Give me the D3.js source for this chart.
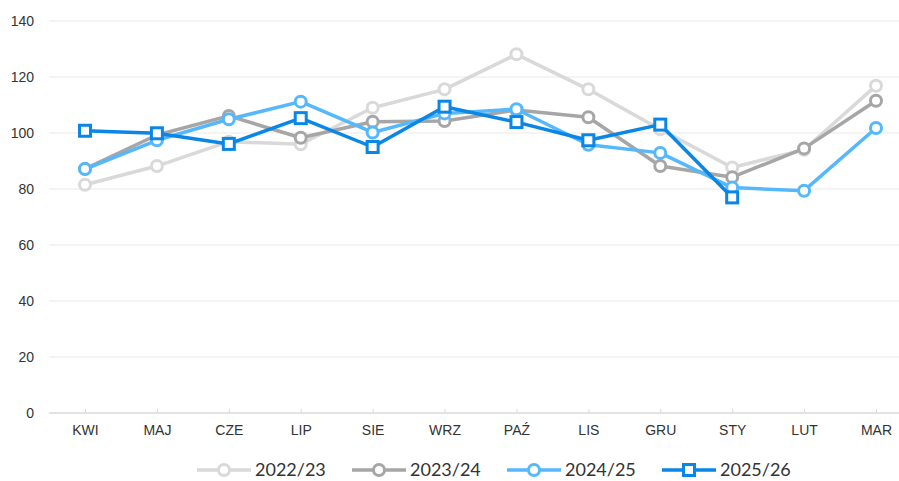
<!DOCTYPE html>
<html>
    <head>
        <meta charset="utf-8">
        <script src="https://d3js.org/d3.v7.min.js"></script>
        <style>
            body {
                margin: 0;
                background: #fff;
                font-family: Lato, 'Open Sans', sans-serif;
            }
            .tick text {
                fill: #333;
                font-size: 14px;
            }
        </style>
    </head>
    <body>
        <svg></svg>
    </body>
    <script>
        // data
        var months = ['KWI', 'MAJ', 'CZE', 'LIP', 'SIE', 'WRZ', 'PAŹ', 'LIS', 'GRU', 'STY', 'LUT', 'MAR'];
        var yTicks = [0, 20, 40, 60, 80, 100, 120, 140];

        var s2022 = [81.5, 88.2, 96.9, 96.0, 109.0, 115.6, 128.1, 115.6, 101.3, 87.7, 94.0, 116.9];
        var s2023 = [87.2, 99.3, 106.1, 98.3, 104.0, 104.3, 108.2, 105.6, 88.2, 84.2, 94.5, 111.5];
        var s2024 = [87.1, 97.4, 104.9, 111.2, 100.2, 107.0, 108.5, 95.8, 92.9, 80.5, 79.4, 101.8];
        var s2025 = [100.8, 99.9, 96.1, 105.3, 95.0, 109.4, 103.9, 97.4, 103.0, 77.0, null, null];

        var seriesNames = ['2022/23', '2023/24', '2024/25', '2025/26'];
        var seriesColors = ['#d9d9d9', '#a6a6a6', '#55b8fc', '#0a86e6'];
        var seriesShapes = ['circle', 'circle', 'circle', 'square'];
        var seriesValues = [s2022, s2023, s2024, s2025];

        // size
        var width = 899, height = 481;
        var plotLeft = 49, plotRight = 899, plotTop = 21, plotBottom = 413;

        var svg = d3.select('svg')
            .attr('width', width)
            .attr('height', height);

        var x = d3.scalePoint().domain(months).range([85, 876]);
        var y = d3.scaleLinear().domain([0, 140]).range([plotBottom, plotTop]);

        // grid
        svg.append('g')
            .selectAll('line')
            .data(yTicks.filter(function (d) { return d > 0; }))
            .enter().append('line')
                .attr('x1', plotLeft)
                .attr('x2', plotRight)
                .attr('y1', function (d) { return y(d); })
                .attr('y2', function (d) { return y(d); })
                .attr('stroke', '#f0f0f0')
                .attr('stroke-width', 1.5);

        // y axis
        var yAxis = svg.append('g')
            .attr('transform', 'translate(34,0)')
            .call(d3.axisLeft(y).tickValues(yTicks).tickSize(0).tickPadding(0));
        yAxis.select('.domain').remove();

        // x axis
        var xAxis = svg.append('g')
            .attr('transform', 'translate(0,' + plotBottom + ')')
            .call(d3.axisBottom(x).tickSize(-4).tickPadding(12).tickSizeOuter(0));
        xAxis.select('.domain')
            .attr('d', 'M' + plotLeft + ',0H' + plotRight)
            .attr('stroke', '#d9d9d9')
            .attr('stroke-width', 1.5);
        xAxis.selectAll('.tick line').attr('stroke', '#d9d9d9');

        // lines
        var line = d3.line()
            .defined(function (d) { return d != null; })
            .x(function (d, i) { return x(months[i]); })
            .y(function (d) { return y(d); });

        function drawMarker(g, shape, color, cx, cy) {
            if (shape === 'square') {
                g.append('rect')
                    .attr('x', cx - 5.5)
                    .attr('y', cy - 5.5)
                    .attr('width', 11)
                    .attr('height', 11)
                    .attr('fill', '#fff')
                    .attr('stroke', color)
                    .attr('stroke-width', 3);
            } else {
                g.append('circle')
                    .attr('cx', cx)
                    .attr('cy', cy)
                    .attr('r', 5.5)
                    .attr('fill', '#fff')
                    .attr('stroke', color)
                    .attr('stroke-width', 3);
            }
        }

        seriesValues.forEach(function (vals, k) {
            var g = svg.append('g');
            g.append('path')
                .datum(vals)
                .attr('d', line)
                .attr('fill', 'none')
                .attr('stroke', seriesColors[k])
                .attr('stroke-width', 3.5)
                .attr('stroke-linejoin', 'round');
            vals.forEach(function (v, i) {
                if (v == null) return;
                drawMarker(g, seriesShapes[k], seriesColors[k], x(months[i]), y(v));
            });
        });

        // legend
        var legendX = [197, 352, 507, 662];
        var legendY = 470;
        seriesNames.forEach(function (name, k) {
            var g = svg.append('g').attr('transform', 'translate(' + legendX[k] + ',' + legendY + ')');
            g.append('line')
                .attr('x1', 0)
                .attr('x2', 54)
                .attr('stroke', seriesColors[k])
                .attr('stroke-width', 3.5);
            drawMarker(g, seriesShapes[k], seriesColors[k], 27, 0);
            g.append('text')
                .attr('x', 58)
                .attr('dy', '0.36em')
                .attr('fill', '#333')
                .style('font-size', '18px')
                .text(name);
        });
    </script>
</html>
